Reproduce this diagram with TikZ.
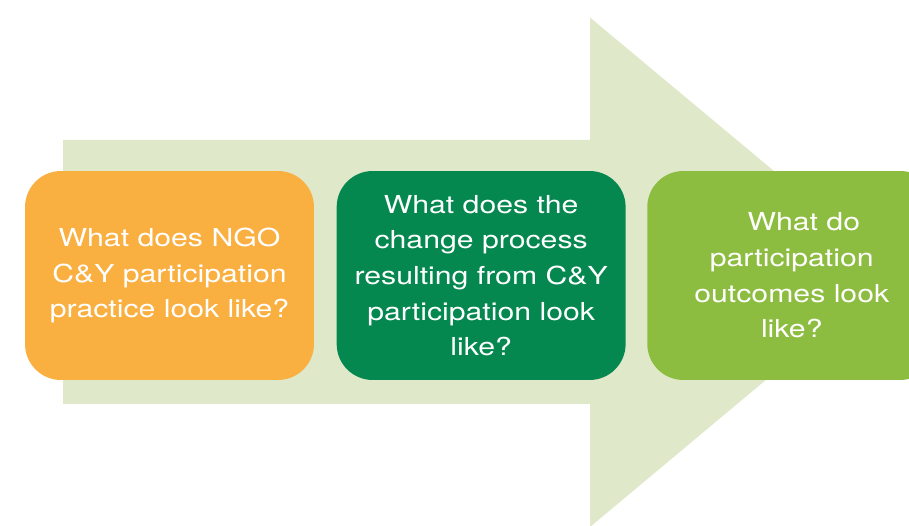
\documentclass[tikz,border=0pt]{standalone}
\usepackage{fontspec}
\setmainfont{TeX Gyre Heros}[FakeStretch=1.22]
\usepackage{xcolor}
\usetikzlibrary{positioning}

\definecolor{arrowgreen}{HTML}{DFE9C9}
\definecolor{qorange}{HTML}{FAAF41}
\definecolor{qdarkgreen}{HTML}{05884F}
\definecolor{qlightgreen}{HTML}{8DBD40}

\begin{document}
\begin{tikzpicture}[
    x=0.02cm, y=-0.02cm,
    node distance=0.44cm,
    question/.style={rectangle, rounded corners=0.72cm, minimum width=5.78cm, minimum height=4.18cm,
      align=center, text=white, inner sep=0pt, font=\fontsize{14.1}{20.3}\selectfont},
  ]
  \useasboundingbox (0,0) rectangle (909,526);
  \clip (0,0) rectangle (909,526);

  % Big pale arrow behind the questions
  \fill[arrowgreen] (63,140) -- (590,140) -- (590,17.5) -- (895,272)
    -- (590,527) -- (590,404) -- (63,404) -- cycle;

  % Questions
  \node[question, fill=qorange] (practice) at (169.5,275.5) {What does NGO\\C\&Y participation\\practice look like?};
  \node[question, fill=qdarkgreen, right=of practice] (process) {What does the\\change process\\resulting from C\&Y\\participation look\\like?};
  \node[question, fill=qlightgreen, right=0.42cm of process] (outcomes) {\hspace*{0.48cm}What do\\participation\\outcomes look\\like?};
\end{tikzpicture}
\end{document}
